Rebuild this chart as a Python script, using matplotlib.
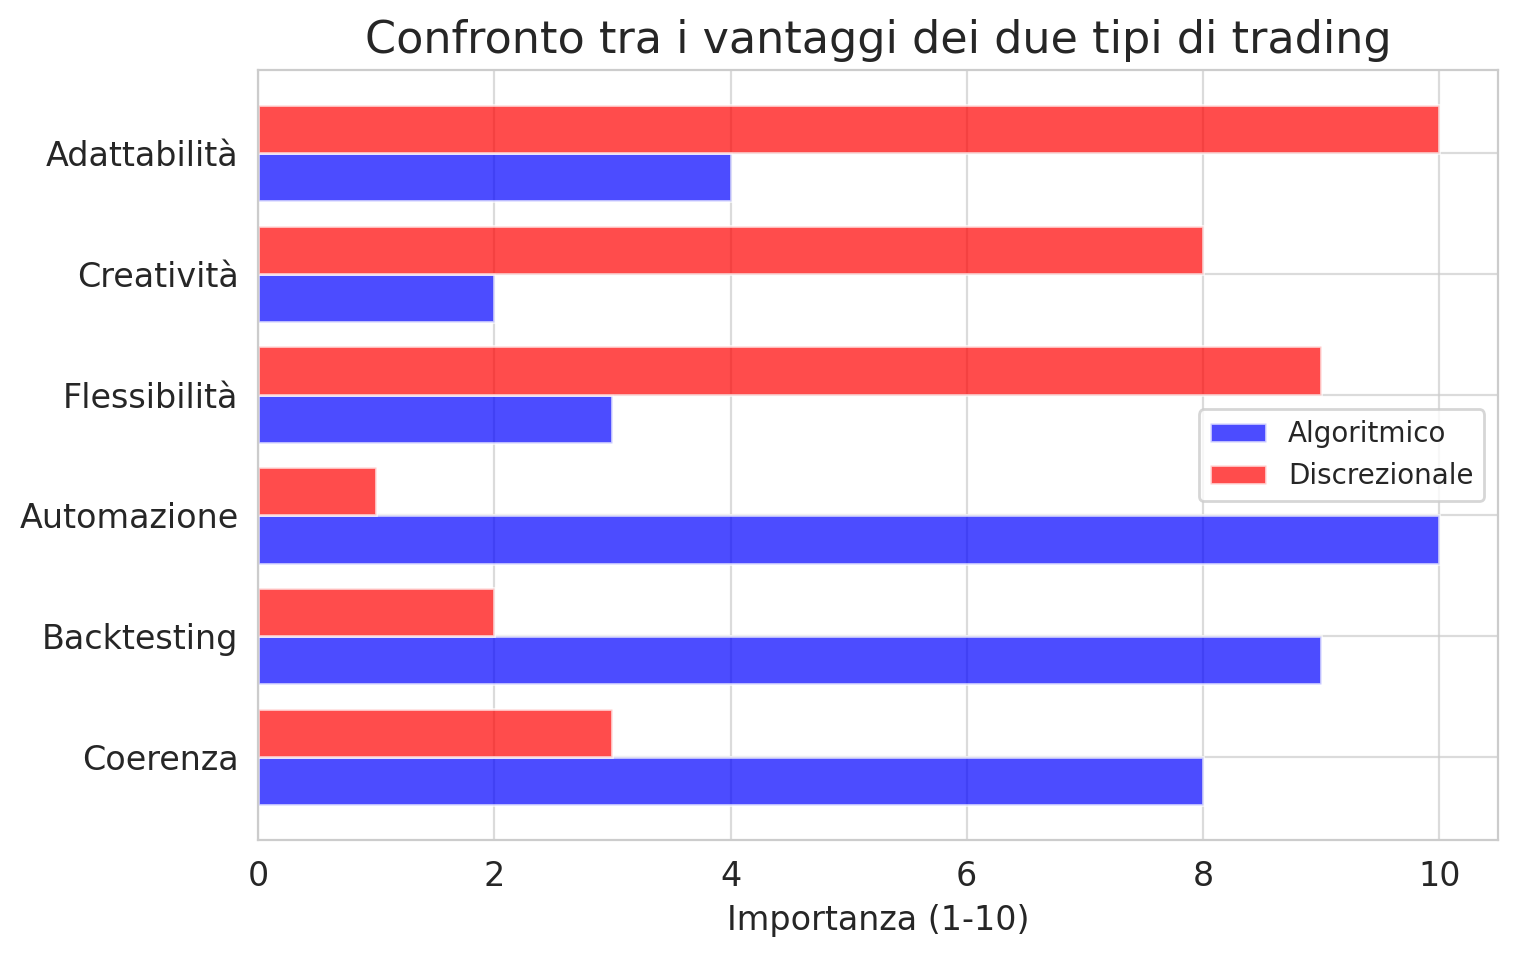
import matplotlib
matplotlib.use("Agg")
import matplotlib.pyplot as plt
import seaborn as sns
import numpy as np

sns.set_style("whitegrid")
plt.rcParams['font.family'] = ['DejaVu Sans']

categories = ["Coerenza", "Backtesting", "Automazione", "Flessibilità", "Creatività", "Adattabilità"]
algoritmico = [8, 9, 10, 3, 2, 4]
discrezionale = [3, 2, 1, 9, 8, 10]

fig, ax = plt.subplots(figsize=(7.59, 4.785), dpi=200)
y = np.arange(len(categories))
h = 0.4
ax.barh(y - h/2, algoritmico, h, label="Algoritmico", color="blue", alpha=0.7)
ax.barh(y + h/2, discrezionale, h, label="Discrezionale", color="red", alpha=0.7)
ax.set_yticks(y)
ax.set_yticklabels(categories, fontsize=12)
ax.tick_params(axis='x', labelsize=12)
ax.grid(True, alpha=0.7)
ax.set_xlabel("Importanza (1-10)", fontsize=12)
ax.set_title("Confronto tra i vantaggi dei due tipi di trading", fontsize=16)
ax.legend(loc="center right", fontsize=10)
fig.subplots_adjust(left=0.17, right=0.987, top=0.927, bottom=0.122)
fig.savefig("out.png", dpi=200)
